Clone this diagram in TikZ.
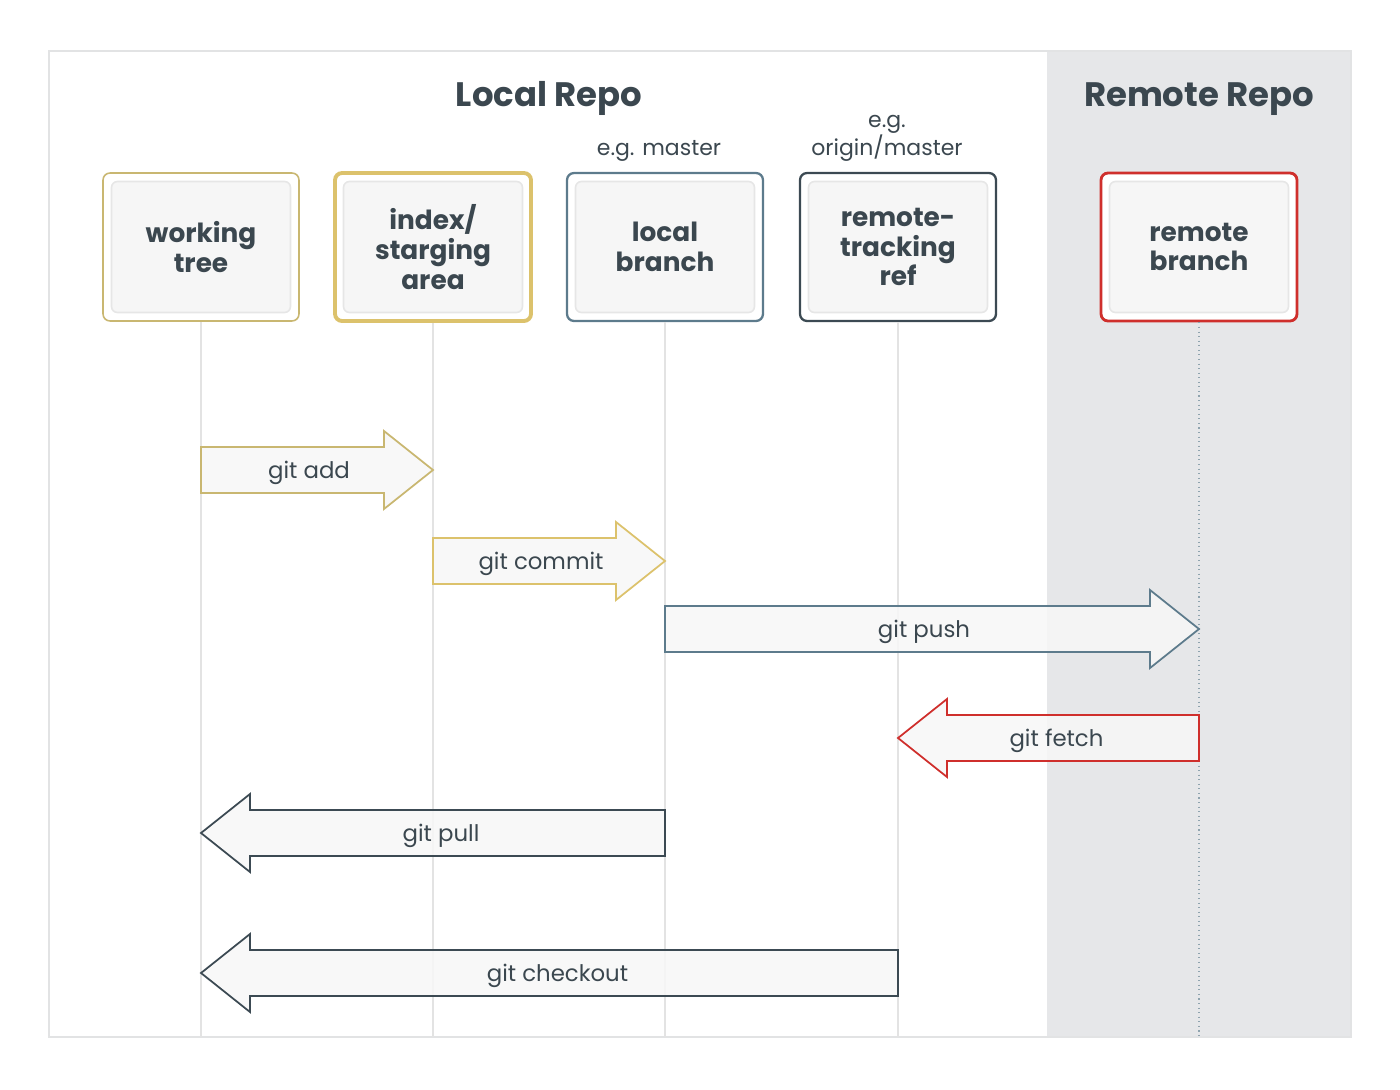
\documentclass[tikz,border=0pt]{standalone}
\usepackage{fontspec}
\setmainfont{Poppins}
\usetikzlibrary{positioning,calc}

\definecolor{ink}{HTML}{3B474F}
\definecolor{gold}{HTML}{DCC26C}
\definecolor{slate}{HTML}{5D7B8C}
\definecolor{darkslate}{HTML}{3C4A53}
\definecolor{crimson}{HTML}{CF2F2C}
\definecolor{remotebg}{HTML}{E6E7E9}
\definecolor{framegray}{HTML}{E2E3E4}
\definecolor{lifegray}{HTML}{E3E3E3}
\definecolor{cardfill}{HTML}{F6F6F6}
\definecolor{cardedge}{HTML}{E6E6E6}
\definecolor{arrowfill}{HTML}{F7F7F7}

\tikzset{
  stage/.style={rounded corners=0.14cm, fill=white, draw=#1, line width=1.3pt,
    minimum width=3.92cm, minimum height=2.96cm, align=center, text=ink,
    font=\bfseries\fontsize{15}{17}\selectfont,
    path picture={\draw[rounded corners=0.12cm, draw=cardedge, fill=cardfill, line width=0.9pt]
      ([shift={(0.17cm,-0.17cm)}]path picture bounding box.north west) rectangle
      ([shift={(-0.17cm,0.17cm)}]path picture bounding box.south east);}},
  repotitle/.style={text=ink, anchor=base, font=\bfseries\fontsize{19.3}{22}\selectfont},
  note/.style={text=ink, align=center, font=\fontsize{12.5}{14.5}\selectfont},
  lifeline/.style={draw=lifegray, line width=0.9pt},
  gitcmd/.style={draw=#1, fill=arrowfill, fill opacity=0.85, line width=1pt, line join=miter},
  cmdlabel/.style={text=ink, text opacity=1, yshift=-0.06cm, font=\fontsize{13}{15}\selectfont}
}

% block arrow between two lifelines: from, to, y, colour, name, label
\newcommand\gitarrow[6]{%
  \draw[gitcmd=#4] let \p1=(#1.south), \p2=(#2.south), \p3=(0,#3), \n1={sign(\x2-\x1)} in
    (\x1,{\y3+0.46cm}) -- ({\x2-(\n1)*0.98cm},{\y3+0.46cm}) -- ({\x2-(\n1)*0.98cm},{\y3+0.78cm})
    -- (\x2,\y3) -- ({\x2-(\n1)*0.98cm},{\y3-0.78cm}) -- ({\x2-(\n1)*0.98cm},{\y3-0.46cm})
    -- (\x1,{\y3-0.46cm}) -- cycle
    ({(\x1+\x2)/2-(\n1)*0.16cm},\y3) node[cmdlabel] (#5) {#6};}

\begin{document}
\begin{tikzpicture}[x=0.02cm, y=-0.02cm]
  \useasboundingbox (0,0) rectangle (1400,1089);

  % frame and remote area
  \fill[remotebg] (1047,51) rectangle (1351,1037);
  \draw[framegray, line width=0.8pt] (49,51) rectangle (1351,1037);

  \node[repotitle] (localtitle) at (549,106) {Local Repo};
  \node[repotitle] (remotetitle) at (1199,106) {Remote Repo};

  % stages
  \node[stage=gold!85!slate, line width=0.9pt] (wt) at (201,247) {working\\tree};
  \node[stage=gold, line width=2.2pt] (idx) at (433,247) {index/\\starging\\area};
  \node[stage=slate] (loc) at (665,247) {local\\branch};
  \node[stage=darkslate] (rtr) at (898,247) {remote-\\tracking\\ref};
  \node[stage=crimson, line width=1.6pt] (rem) at (1199,247) {remote\\branch};

  \node[note, above=0.08cm of loc, xshift=-0.12cm] (locnote) {e.g. master};
  \node[note, above=0.08cm of rtr, xshift=-0.22cm] (rtrnote) {e.g.\\origin/master};

  % lifelines
  \coordinate (floor) at (0,1037);
  \foreach \s in {wt,idx,loc,rtr}
    \draw[lifeline] (\s.south) -- (\s.south |- floor);
  \draw[slate!70, line width=0.6pt, dotted] (rem.south) -- (rem.south |- floor);

  % commands
  \gitarrow{wt}{idx}{470}{gold!85!slate}{add}{git add}
  \gitarrow{idx}{loc}{561}{gold}{commit}{git commit}
  \gitarrow{loc}{rem}{629}{slate}{push}{git push}
  \gitarrow{rem}{rtr}{738}{crimson}{fetch}{git fetch}
  \gitarrow{loc}{wt}{833}{darkslate}{pull}{git pull}
  \gitarrow{rtr}{wt}{973}{darkslate}{checkout}{git checkout}
\end{tikzpicture}
\end{document}
